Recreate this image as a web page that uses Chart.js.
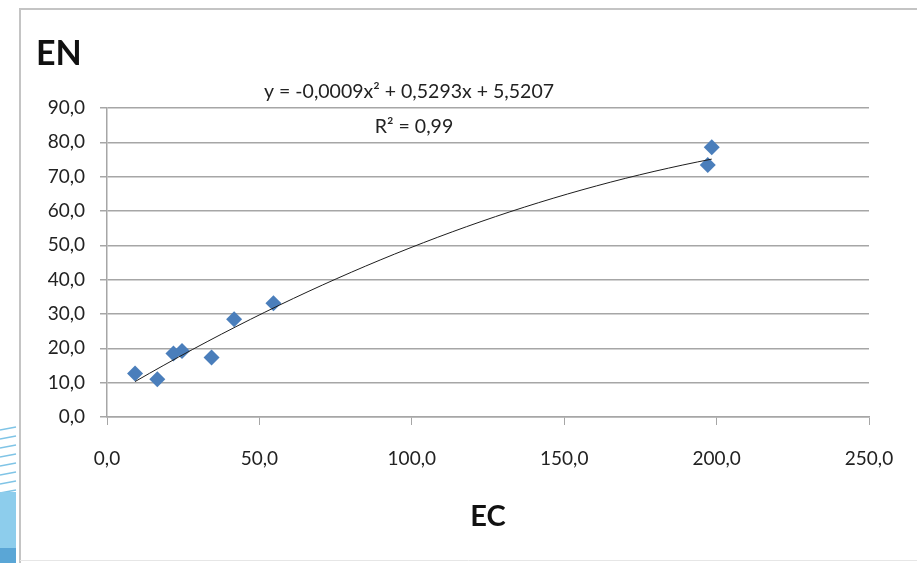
<!DOCTYPE html>
<html>
<head>
<meta charset="utf-8">
<script src="https://cdn.jsdelivr.net/npm/chart.js@4.4.1/dist/chart.umd.min.js"></script>
<style>
  html, body { margin: 0; padding: 0; background: #fff; }
  #wrap { width: 917px; height: 563px; }
</style>
</head>
<body>
<div id="wrap"><canvas id="chart" width="917" height="563"></canvas></div>
<script>
// measured points (EC, EN)
const ecValues = [9.2, 16.5, 21.8, 24.6, 34.3, 41.7, 54.6, 198.4, 197.1];
const enValues = [12.7, 11.0, 18.5, 19.2, 17.3, 28.5, 33.1, 78.6, 73.4];

// trendline coefficients as printed on the chart (a, b, c)
const trendCoeffs = [-0.0009, 0.5293, 5.5207];
const trendLabel = "y = -0,0009x\u00B2 + 0,5293x + 5,5207";
const r2Label = "R\u00B2 = 0,99";

const xTicks = [0, 50, 100, 150, 200, 250];
const yTicks = [0, 10, 20, 30, 40, 50, 60, 70, 80, 90];

const FONT = "Lato, 'Open Sans', sans-serif";

function fmt(v) {
    return Number(v).toFixed(1).replace(".", ",");
}

// curve of the printed polynomial between the smallest and largest EC
function buildTrend() {
    const xMin = Math.min(...ecValues);
    const xMax = Math.max(...ecValues);
    const pts = [];
    const steps = 40;
    for (let i = 0; i <= steps; i++) {
        const x = xMin + (xMax - xMin) * i / steps;
        const y = trendCoeffs[0] * x * x + trendCoeffs[1] * x + trendCoeffs[2];
        pts.push({ x: x, y: y });
    }
    return pts;
}

// frame, slide decoration and free texts
const decorations = {
    id: "decorations",
    beforeDraw(chart) {
        const ctx = chart.ctx;
        ctx.save();
        ctx.fillStyle = "#fff";
        ctx.fillRect(0, 0, chart.width, chart.height);

        // blue slide decoration on the left edge
        ctx.strokeStyle = "#7fc4e6";
        ctx.lineWidth = 1.5;
        for (let i = 0; i < 8; i++) {
            const y = 427 + i * 9;
            ctx.beginPath();
            ctx.moveTo(0, y + 3);
            ctx.lineTo(16, y);
            ctx.stroke();
        }
        ctx.fillStyle = "#8dcdec";
        ctx.fillRect(0, 492, 16, 60);
        ctx.fillStyle = "#5aa6d6";
        ctx.fillRect(0, 548, 16, 15);

        // chart frame
        ctx.strokeStyle = "#c4c4c4";
        ctx.lineWidth = 2;
        ctx.beginPath();
        ctx.moveTo(20, 563);
        ctx.lineTo(20, 9);
        ctx.lineTo(917, 9);
        ctx.stroke();
        ctx.strokeStyle = "#e6e6e6";
        ctx.lineWidth = 1;
        ctx.beginPath();
        ctx.moveTo(20, 560.5);
        ctx.lineTo(917, 560.5);
        ctx.stroke();
        ctx.restore();
    },
    afterDraw(chart) {
        const ctx = chart.ctx;
        ctx.save();
        ctx.fillStyle = "#111";
        ctx.textBaseline = "alphabetic";
        ctx.textAlign = "left";
        ctx.font = "bold 34px " + FONT;
        ctx.fillText("EN", 36, 65);
        ctx.textAlign = "center";
        ctx.font = "bold 29px " + FONT;
        ctx.fillText("EC", 488, 526);

        ctx.fillStyle = "#222";
        ctx.font = "19.5px " + FONT;
        ctx.fillText(trendLabel, 409, 98);
        ctx.fillText(r2Label, 414, 133);
        ctx.restore();
    }
};

const ctx = document.getElementById("chart").getContext("2d");

new Chart(ctx, {
    type: "scatter",
    data: {
        datasets: [
            {
                label: "trend",
                type: "line",
                data: buildTrend(),
                borderColor: "#1e1e1e",
                borderWidth: 1,
                pointRadius: 0,
                fill: false,
                tension: 0
            },
            {
                label: "EN",
                data: ecValues.map((x, i) => ({ x: x, y: enValues[i] })),
                pointStyle: "rectRot",
                pointRadius: 8,
                pointHoverRadius: 8,
                backgroundColor: "#4a7ebb",
                borderColor: "#4a7ebb",
                borderWidth: 0
            }
        ]
    },
    options: {
        responsive: false,
        animation: false,
        events: [],
        layout: {
            padding: { left: 20, top: 108, right: 48, bottom: 86 }
        },
        plugins: {
            legend: { display: false },
            tooltip: { enabled: false }
        },
        scales: {
            x: {
                type: "linear",
                min: xTicks[0],
                max: xTicks[xTicks.length - 1],
                afterBuildTicks: scale => { scale.ticks = xTicks.map(v => ({ value: v })); },
                afterFit: scale => { scale.height = 60; },
                grid: {
                    drawOnChartArea: false,
                    drawTicks: true,
                    tickLength: 8,
                    color: "#a6a6a6"
                },
                border: { color: "#a6a6a6", width: 1.5 },
                ticks: {
                    padding: 22,
                    color: "#222",
                    font: { family: FONT, size: 19 },
                    maxRotation: 0,
                    callback: v => fmt(v)
                }
            },
            y: {
                type: "linear",
                min: yTicks[0],
                max: yTicks[yTicks.length - 1],
                afterBuildTicks: scale => { scale.ticks = yTicks.map(v => ({ value: v })); },
                afterFit: scale => { scale.width = 87; },
                grid: {
                    drawTicks: true,
                    tickLength: 7,
                    color: "#a6a6a6",
                    lineWidth: 1.5
                },
                border: { color: "#a6a6a6", width: 1.5 },
                ticks: {
                    padding: 15,
                    color: "#222",
                    font: { family: FONT, size: 19 },
                    callback: v => fmt(v)
                }
            }
        }
    },
    plugins: [decorations]
});
</script>
</body>
</html>
